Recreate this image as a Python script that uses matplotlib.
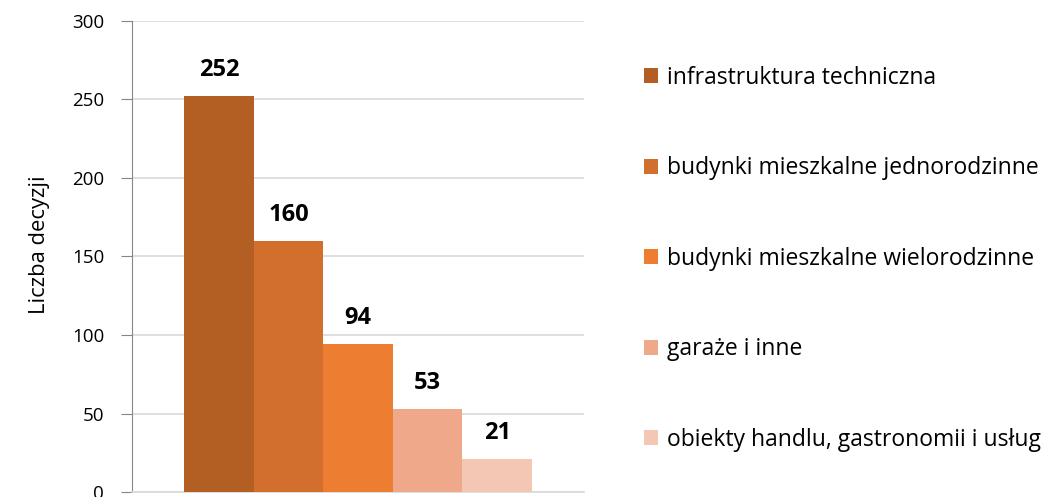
import matplotlib.pyplot as plt
from matplotlib.patches import Patch

# dane
kategorie = ['infrastruktura techniczna', 'budynki mieszkalne jednorodzinne',
             'budynki mieszkalne wielorodzinne', 'garaże i inne',
             'obiekty handlu, gastronomii i usług']
wartosci = [252, 160, 94, 53, 21]
kolory = ['#B35E22', '#D36F2D', '#ED7D31', '#F0A88A', '#F4C7B5']
y_ticks = [0, 50, 100, 150, 200, 250, 300]

plt.rcParams['font.family'] = ['Open Sans', 'DejaVu Sans']

fig = plt.figure(figsize=(10.47, 4.97), dpi=100)
ax = fig.add_axes([0.126, 0.010, 0.432, 0.948])

x = list(range(len(wartosci)))
ax.bar(x, wartosci, width=1.0, color=kolory, zorder=3)
for xi, v in zip(x, wartosci):
    ax.text(xi, v + 9, str(v), ha='center', va='bottom',
            fontsize=17, fontweight='bold', color='black')

ax.set_xlim(-1.25, 5.25)
ax.set_ylim(0, 300)
ax.set_yticks(y_ticks)
ax.set_xticks([])
ax.grid(axis='y', color='#D9D9D9', linewidth=1.2, zorder=0)
ax.tick_params(axis='y', labelsize=13.5, length=8, color='#868686', pad=12)
for s in ['top', 'right']:
    ax.spines[s].set_visible(False)
ax.spines['left'].set_color('#868686')
ax.spines['bottom'].set_color('#D9D9D9')
ax.spines['bottom'].set_linewidth(1.2)

# podpis osi Y
fig.text(40 / 1047, 1 - 245 / 497, 'Liczba decyzji', rotation=90,
         ha='center', va='center', fontsize=15.8)

uchwyty = [Patch(facecolor=k, edgecolor='none') for k in kolory]
fig.legend(uchwyty, kategorie, loc='upper left', bbox_to_anchor=(0.595, 0.909),
           frameon=False, fontsize=16.5, labelspacing=2.9,
           handlelength=0.65, handleheight=0.65, handletextpad=0.35)

fig.savefig('out.png', dpi=100)
